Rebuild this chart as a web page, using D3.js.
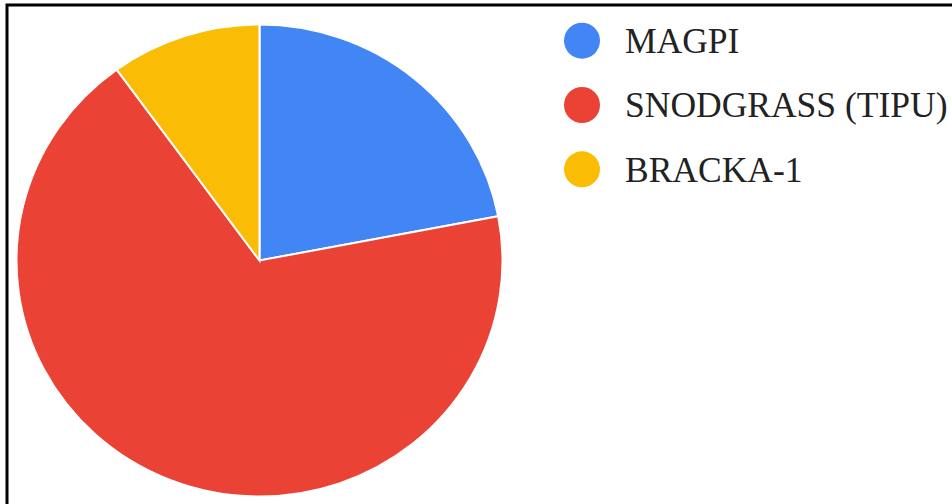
<!DOCTYPE html>
<html><head><meta charset="utf-8">
<script src="https://cdn.jsdelivr.net/npm/d3@7"></script>
<style>html,body{margin:0;padding:0;background:#fff;overflow:hidden}</style>
</head><body>
<svg id="c" width="952" height="504"></svg>
<script>
const categories = ["MAGPI", "SNODGRASS (TIPU)", "BRACKA-1"];
const values = [22, 68, 10];
const colors = ["#4285F4", "#EA4335", "#FBBC05"];

const svg = d3.select("#c");
// frame
svg.append("rect").attr("x", 7).attr("y", 5).attr("width", 960).attr("height", 520)
  .attr("fill", "none").attr("stroke", "#000").attr("stroke-width", 3);

const cx = 259.5, cy = 260.5, ry = 236, rx = 243;
const pie = d3.pie().sort(null).value(d => d.v);
const arc = d3.arc().innerRadius(0).outerRadius(ry);
const data = categories.map((c, i) => ({c, v: values[i], col: colors[i]}));
const g = svg.append("g").attr("transform", `translate(${cx},${cy}) scale(${rx/ry},1)`);
g.selectAll("path").data(pie(data)).join("path")
  .attr("d", arc).attr("fill", d => d.data.col)
  .attr("stroke", "#fff").attr("stroke-width", 2).attr("vector-effect", "non-scaling-stroke");

const y = d3.scaleBand().domain(categories).range([8.5, 201.5]);
const lg = svg.append("g");
const items = lg.selectAll("g").data(data).join("g")
  .attr("transform", d => `translate(0,${y(d.c) + y.bandwidth()/2})`);
items.append("circle").attr("cx", 582).attr("cy", 0).attr("r", 18).attr("fill", d => d.col);
items.append("text").attr("x", 625).attr("y", 0).attr("dy", "0.35em")
  .attr("font-family", "Liberation Serif, serif").attr("font-size", 35.5).attr("fill", "#222")
  .text(d => d.c);
</script>
</body></html>
